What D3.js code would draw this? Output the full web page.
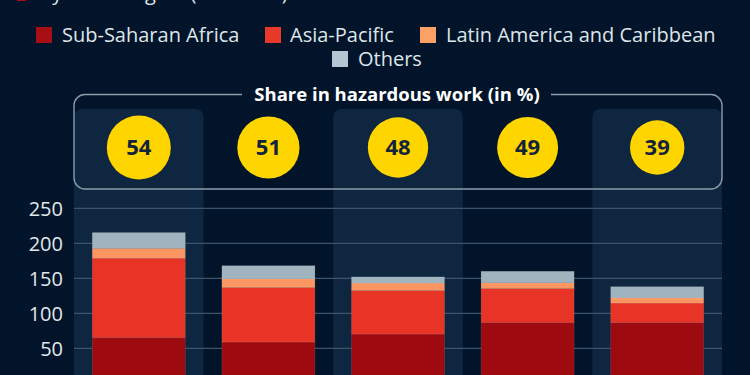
<!DOCTYPE html>
<html>
<head>
<meta charset="utf-8">
<script src="https://cdn.jsdelivr.net/npm/d3@7"></script>
<style>
  html, body { margin: 0; padding: 0; background: #011429; }
  svg { display: block; font-family: "Open Sans", sans-serif; }
</style>
</head>
<body>
<svg id="chart" width="750" height="375"></svg>
<script>
// ---- data ----
const years = ["2008", "2012", "2016", "2020", "2024"];
const seriesNames = ["Sub-Saharan Africa", "Asia-Pacific", "Latin America and Caribbean", "Others"];
const subSaharanAfrica = [65.1, 59.0, 70.4, 86.6, 86.6];
const asiaPacific = [113.6, 77.7, 62.1, 48.7, 28.0];
const latinAmerica = [14.1, 12.5, 10.7, 8.2, 7.3];
const others = [22.5, 18.8, 8.8, 16.5, 16.1];
const hazardShare = [54, 51, 48, 49, 39];
const yTicks = [0, 50, 100, 150, 200, 250];

const colors = ["#9d0a10", "#e83426", "#fb9562", "#9fb4be"];
const legendColors = ["#a50f15", "#e8392a", "#fca166", "#b3c7d3"];

const svg = d3.select("#chart");
const W = 750, H = 375;

// background
svg.append("rect").attr("width", W).attr("height", H).attr("fill", "#011429");

// subtitle (mostly cropped at the top edge)
svg.append("rect").attr("x", 17).attr("y", -12).attr("width", 9).attr("height", 13).attr("fill", "#a50f15");
svg.append("text").attr("x", 40).attr("y", 0).attr("fill", "#dfe5ea")
  .attr("font-size", 20).text("by world region (in million)");

// scales
const x = d3.scaleBand().domain(years).range([74, 722]).paddingInner(0).paddingOuter(0);
const y = d3.scaleLinear().domain([0, 250]).range([383.3, 208.3]);
const r = d3.scaleSqrt().domain([0, 54]).range([0, 32]);
const barW = 93;

// column bands (alternate)
const bandTop = 109;
years.forEach((yr, i) => {
  if (i % 2 === 0) {
    svg.append("rect")
      .attr("x", x(yr)).attr("y", bandTop)
      .attr("width", x.bandwidth()).attr("height", H - bandTop + 20)
      .attr("rx", 8).attr("ry", 8)
      .attr("fill", "#0f2641");
  }
});

// gridlines
svg.append("g").selectAll("line").data(yTicks.filter(d => d > 0)).join("line")
  .attr("x1", 74).attr("x2", 722)
  .attr("y1", d => y(d)).attr("y2", d => y(d))
  .attr("stroke", "#3d536b").attr("stroke-width", 1.2);

// y axis
const yAxis = d3.axisLeft(y).tickValues(yTicks).tickSize(0).tickPadding(0);
const gy = svg.append("g").attr("transform", "translate(63,0)").call(yAxis);
gy.select(".domain").remove();
gy.selectAll("text").attr("fill", "#e1e7ec").attr("font-size", 20)
  .attr("font-family", "Open Sans, sans-serif").attr("dy", "0.34em");

// stacked bars
const table = years.map((yr, i) => ({
  year: yr,
  "Sub-Saharan Africa": subSaharanAfrica[i],
  "Asia-Pacific": asiaPacific[i],
  "Latin America and Caribbean": latinAmerica[i],
  "Others": others[i]
}));
const stack = d3.stack().keys(seriesNames)(table);
stack.forEach((layer, li) => {
  svg.append("g").selectAll("rect").data(layer).join("rect")
    .attr("x", d => x(d.data.year) + (x.bandwidth() - barW) / 2)
    .attr("width", barW)
    .attr("y", d => y(d[1]))
    .attr("height", d => y(d[0]) - y(d[1]))
    .attr("fill", colors[li])
    .attr("stroke", "rgba(255,255,255,0.12)").attr("stroke-width", 0.8);
});

// x axis (below visible area)
const xAxis = d3.axisBottom(x).tickSize(0);
const gx = svg.append("g").attr("transform", "translate(0,392)").call(xAxis);
gx.select(".domain").remove();
gx.selectAll("text").attr("fill", "#e1e7ec").attr("font-size", 18);

// hazardous box
const boxL = 74, boxR = 722, boxT = 94.5, boxB = 189, rad = 11;
const titleGapL = 242, titleGapR = 551;
const p = d3.path();
p.moveTo(titleGapL, boxT);
p.lineTo(boxL + rad, boxT);
p.arcTo(boxL, boxT, boxL, boxT + rad, rad);
p.lineTo(boxL, boxB - rad);
p.arcTo(boxL, boxB, boxL + rad, boxB, rad);
p.lineTo(boxR - rad, boxB);
p.arcTo(boxR, boxB, boxR, boxB - rad, rad);
p.lineTo(boxR, boxT + rad);
p.arcTo(boxR, boxT, boxR - rad, boxT, rad);
p.lineTo(titleGapR, boxT);
svg.append("path").attr("d", p.toString()).attr("fill", "none")
  .attr("stroke", "#8d9cab").attr("stroke-width", 1.4);
svg.append("text").attr("x", 397).attr("y", boxT).attr("dy", "0.35em")
  .attr("text-anchor", "middle").attr("fill", "#ffffff")
  .attr("font-weight", "bold").attr("font-size", 18.5)
  .text("Share in hazardous work (in %)");

// circles
const cy = 147.5;
const cg = svg.append("g").selectAll("g").data(years.map((yr, i) => ({ yr, v: hazardShare[i] }))).join("g")
  .attr("transform", d => `translate(${x(d.yr) + x.bandwidth() / 2},${cy})`);
cg.append("circle").attr("r", d => r(d.v)).attr("fill", "#ffd500");
cg.append("text").attr("text-anchor", "middle").attr("dy", "0.36em")
  .attr("fill", "#13233a").attr("font-weight", "bold").attr("font-size", 22)
  .text(d => d.v);

// legend
const legendItems = [
  { name: seriesNames[0], sx: 36, tx: 62, cy: 35 },
  { name: seriesNames[1], sx: 265, tx: 290, cy: 35 },
  { name: seriesNames[2], sx: 420, tx: 446, cy: 35 },
  { name: seriesNames[3], sx: 332, tx: 358, cy: 59 }
];
const lg = svg.append("g").selectAll("g").data(legendItems).join("g");
lg.append("rect").attr("x", d => d.sx).attr("y", d => d.cy - 8)
  .attr("width", 16).attr("height", 16).attr("fill", (d, i) => legendColors[i]);
lg.append("text").attr("x", d => d.tx).attr("y", d => d.cy).attr("dy", "0.35em")
  .attr("fill", "#dfe5ea").attr("font-size", 20).text(d => d.name);
</script>
</body>
</html>
